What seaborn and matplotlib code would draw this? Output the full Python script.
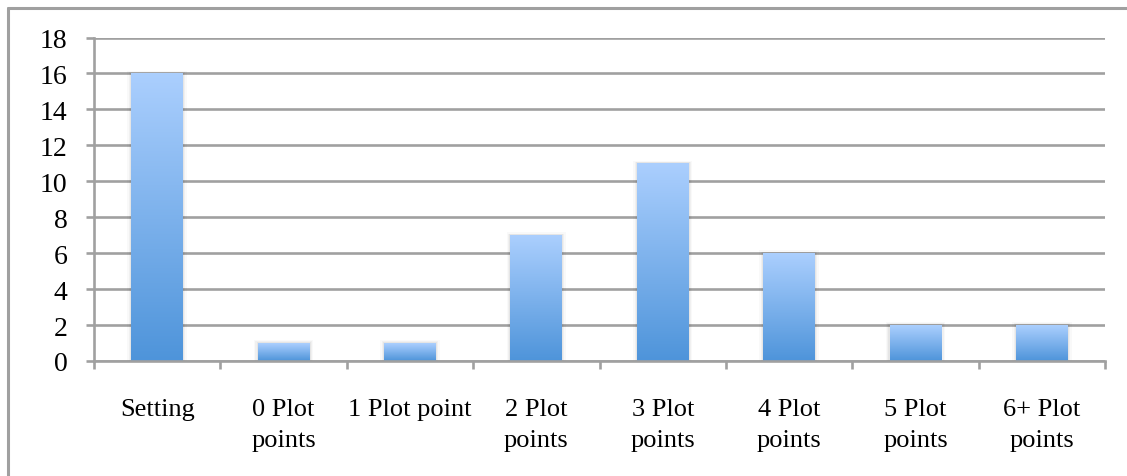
import numpy as np
import pandas as pd
import seaborn as sns
import matplotlib
matplotlib.use("Agg")
import matplotlib.pyplot as plt
from matplotlib.colors import LinearSegmentedColormap
from matplotlib.lines import Line2D
from matplotlib.patches import Rectangle

categories = ["Setting", "0 Plot\npoints", "1 Plot point", "2 Plot\npoints",
              "3 Plot\npoints", "4 Plot\npoints", "5 Plot\npoints", "6+ Plot\npoints"]
counts = [16, 1, 1, 7, 11, 6, 2, 2]
y_ticks = [0, 2, 4, 6, 8, 10, 12, 14, 16, 18]

sns.set_theme(style="white")
plt.rcParams["font.family"] = ["Liberation Serif", "DejaVu Serif"]

GRID = "#A0A0A0"
TOP_BLUE = "#ABCFFE"
BOTTOM_BLUE = "#4E94DA"
LW = 1.9

fig = plt.figure(figsize=(11.27, 4.77), dpi=100)
fig.patch.set_facecolor("white")
ax = fig.add_axes([94 / 1127, 115 / 477, (1105 - 94) / 1127, (362 - 38.5) / 477])

df = pd.DataFrame({"category": categories, "count": counts})
sns.barplot(data=df, x="category", y="count", color=BOTTOM_BLUE, width=0.41,
            ax=ax, edgecolor="none", saturation=1)

ax.set_xlim(-0.5, len(categories) - 0.5)
ax.set_ylim(0, 18)
ax.set_yticks(y_ticks)
ax.set_yticklabels([str(v) for v in y_ticks])
ax.set_xlabel("")
ax.set_ylabel("")

# horizontal gridlines behind the bars
ax.set_axisbelow(True)
ax.yaxis.grid(True, color=GRID, linewidth=LW)
ax.xaxis.grid(False)

for side in ("top", "right"):
    ax.spines[side].set_visible(False)
for side in ("left", "bottom"):
    ax.spines[side].set_color(GRID)
    ax.spines[side].set_linewidth(LW)

ax.tick_params(axis="y", which="major", direction="out", length=6, width=LW,
               color=GRID, pad=13, labelsize=20, labelcolor="black", left=True)
# category labels sit between boundary tick marks
ax.set_xticks(np.arange(-0.5, len(categories)), minor=True)
ax.tick_params(axis="x", which="major", length=0, pad=27, labelsize=19,
               labelcolor="black")
ax.tick_params(axis="x", which="minor", direction="out", length=5.5, width=LW,
               color=GRID, bottom=True)
for lab in ax.get_xticklabels():
    lab.set_linespacing(1.5)

# vertical light-to-dark gradient fill with a soft shadow on each bar
cmap = LinearSegmentedColormap.from_list("bar_grad", [BOTTOM_BLUE, TOP_BLUE])
grad = np.linspace(0, 1, 256).reshape(-1, 1)
for patch in list(ax.patches):
    x0, y0 = patch.get_x(), patch.get_y()
    w, h = patch.get_width(), patch.get_height()
    for k, a in ((0.03, 0.025), (0.018, 0.035), (0.009, 0.045)):
        ax.add_patch(Rectangle((x0 - k, y0), w + 2 * k, h + k * 5,
                               facecolor="black", edgecolor="none",
                               alpha=a, zorder=1.5))
    patch.set_facecolor("none")
    im = ax.imshow(grad, cmap=cmap, origin="lower", aspect="auto",
                   extent=(x0, x0 + w, y0, y0 + h), zorder=2,
                   interpolation="bilinear")
    im.set_clip_path(patch)
ax.set_xlim(-0.5, len(categories) - 0.5)
ax.set_ylim(0, 18)

# chart-area border along the top and left edges
fig.add_artist(Line2D([8 / 1127, 1.0], [1 - 9 / 477, 1 - 9 / 477],
                      transform=fig.transFigure, color=GRID, linewidth=2.2))
fig.add_artist(Line2D([8 / 1127, 8 / 1127], [0.0, 1 - 9 / 477],
                      transform=fig.transFigure, color=GRID, linewidth=2.2))

fig.savefig("out.png", dpi=100, facecolor="white")
